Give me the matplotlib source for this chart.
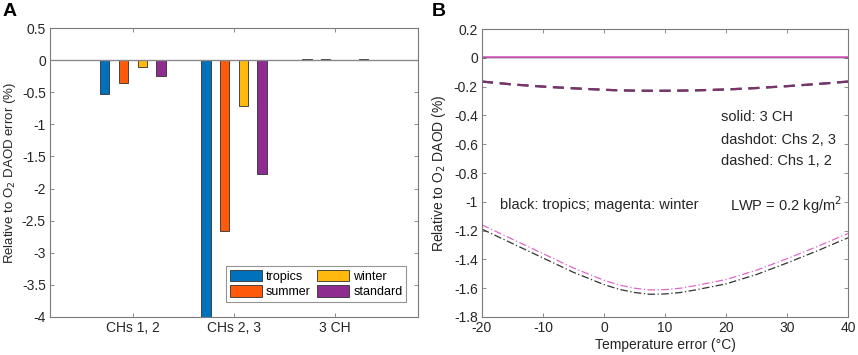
import numpy as np
import matplotlib
matplotlib.use("Agg")
import matplotlib.pyplot as plt

# ---- Panel A data ----
groups = ["CHs 1, 2", "CHs 2, 3", "3 CH"]
series = ["tropics", "summer", "winter", "standard"]
tropics = [-0.53, -4.0, 0.015]
summer = [-0.35, -2.66, 0.01]
winter = [-0.10, -0.71, 0.005]
standard = [-0.24, -1.78, 0.01]
bar_colors = ["#0072BD", "#FF5A0A", "#FFB90F", "#8E2C90"]

# ---- Panel B data ----
temp_err = [-20, -15, -10, -5, 0, 2.5, 5, 7.5, 10, 12.5, 15, 20, 25, 30, 35, 40]
solid_black = [0.003] * 16
solid_magenta = [0.003] * 16
dashed_black = [-0.165, -0.185, -0.200, -0.212, -0.222, -0.226, -0.228, -0.229, -0.229, -0.228, -0.226, -0.220, -0.210, -0.197, -0.182, -0.165]
dashed_magenta = [-0.165, -0.185, -0.200, -0.212, -0.222, -0.226, -0.228, -0.229, -0.229, -0.228, -0.226, -0.220, -0.210, -0.197, -0.182, -0.165]
dashdot_black = [-1.19, -1.29, -1.39, -1.49, -1.575, -1.608, -1.630, -1.642, -1.640, -1.630, -1.612, -1.570, -1.505, -1.425, -1.340, -1.25]
dashdot_magenta = [-1.16, -1.26, -1.36, -1.46, -1.545, -1.578, -1.600, -1.612, -1.610, -1.600, -1.582, -1.540, -1.475, -1.395, -1.310, -1.22]

plt.rcParams['font.family'] = ['Liberation Sans', 'DejaVu Sans']
plt.rcParams['axes.unicode_minus'] = False
axcol = '#7a7a7a'
txtcol = '#262626'

fig = plt.figure(figsize=(8.58, 3.55), dpi=100)
axA = fig.add_axes([50/858, 1-317/355, 368/858, 289/355])
axB = fig.add_axes([482/858, 1-317/355, 366/858, 288/355])

def style(ax):
    for s in ax.spines.values():
        s.set_color(axcol)
        s.set_linewidth(0.8)
    ax.tick_params(direction='in', top=True, right=True, colors=axcol,
                   labelcolor=txtcol, labelsize=10, length=3, width=0.6, pad=3)

# Panel A
x = np.arange(1, 4)
w = 0.092
step = 0.185
vals = [tropics, summer, winter, standard]
for i, (name, v, c) in enumerate(zip(series, vals, bar_colors)):
    axA.bar(x + (i - 1.5) * step, v, width=w, color=c, edgecolor='#303030',
            linewidth=0.6, label=name, zorder=2)
axA.axhline(0, color='#8a8a8a', lw=1.0, zorder=3)
axA.set_xlim(0.18, 3.82)
axA.set_ylim(-4, 0.5)
axA.set_xticks(x)
axA.set_xticklabels(groups)
axA.set_yticks(np.arange(-4, 0.51, 0.5))
axA.set_yticklabels(['-4', '-3.5', '-3', '-2.5', '-2', '-1.5', '-1', '-0.5', '0', '0.5'])
axA.set_ylabel('Relative to O$_2$ DAOD error (%)', fontsize=9.5, color=txtcol, labelpad=3)
style(axA)
leg = axA.legend(ncol=2, loc='lower right', fontsize=9, frameon=True, fancybox=False,
                 edgecolor=axcol, handlelength=2.6, handleheight=1.0, columnspacing=0.5,
                 handletextpad=0.3, labelspacing=0.2, borderpad=0.3,
                 bbox_to_anchor=(0.985, 0.03))
leg.get_frame().set_linewidth(0.8)

# Panel B
mag = '#E066CC'
axB.plot(temp_err, solid_black, color='k', lw=1.0)
axB.plot(temp_err, solid_magenta, color=mag, lw=1.2)
axB.plot(temp_err, dashed_black, color='k', lw=1.6, ls=(0, (5, 3)))
axB.plot(temp_err, dashed_magenta, color='#B04A9E', lw=1.6, ls=(0, (5, 3)), alpha=0.7)
axB.plot(temp_err, dashdot_black, color='#333333', lw=0.9, ls=(0, (6, 2, 1, 2)))
axB.plot(temp_err, dashdot_magenta, color=mag, lw=0.9, ls=(0, (6, 2, 1, 2)))
axB.set_xlim(-20, 40)
axB.set_ylim(-1.8, 0.2)
axB.set_xticks(np.arange(-20, 41, 10))
axB.set_yticks(np.arange(-1.8, 0.21, 0.2))
axB.set_yticklabels(['-1.8', '-1.6', '-1.4', '-1.2', '-1', '-0.8', '-0.6', '-0.4', '-0.2', '0', '0.2'])
axB.set_xlabel('Temperature error (°C)', fontsize=10, color=txtcol, labelpad=2)
axB.set_ylabel('Relative to O$_2$ DAOD (%)', fontsize=10, color=txtcol, labelpad=4)
style(axB)

tk = dict(fontsize=10.5, color=txtcol, va='center', ha='left')
axB.text(19.2, -0.41, 'solid: 3 CH', **tk)
axB.text(19.2, -0.57, 'dashdot: Chs 2, 3', **tk)
axB.text(19.2, -0.72, 'dashed: Chs 1, 2', **tk)
axB.text(-17, -1.02, 'black: tropics; magenta: winter', **tk)
axB.text(20.6, -1.02, 'LWP = 0.2 kg/m$^2$', **tk)

fig.text(3/858, 1-12/355, 'A', fontsize=14, fontweight='bold', va='center', ha='left')
fig.text(432/858, 1-12/355, 'B', fontsize=14, fontweight='bold', va='center', ha='left')

fig.savefig('out.png', dpi=100)
